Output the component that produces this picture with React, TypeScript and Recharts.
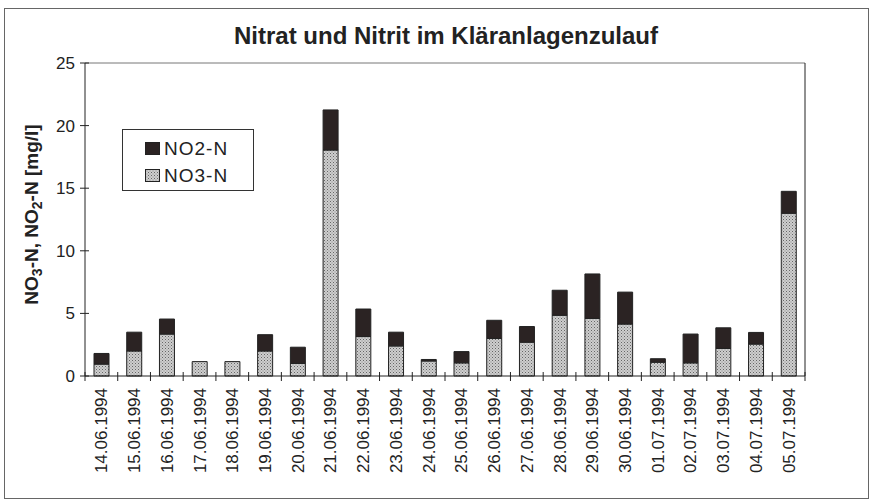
import { Bar, BarChart, XAxis, YAxis } from "recharts";

// Probenahmetage (Zulauf Kläranlage), Werte in mg/l
const DATES = [
  "14.06.1994", "15.06.1994", "16.06.1994", "17.06.1994", "18.06.1994", "19.06.1994",
  "20.06.1994", "21.06.1994", "22.06.1994", "23.06.1994", "24.06.1994", "25.06.1994",
  "26.06.1994", "27.06.1994", "28.06.1994", "29.06.1994", "30.06.1994", "01.07.1994",
  "02.07.1994", "03.07.1994", "04.07.1994", "05.07.1994",
];
const NO3_N = [
  0.95, 2.0, 3.35, 1.15, 1.15, 2.0, 1.0, 18.05, 3.15, 2.4, 1.2, 1.05,
  3.0, 2.7, 4.85, 4.6, 4.15, 1.1, 1.05, 2.2, 2.55, 13.0,
];
const NO2_N = [
  0.85, 1.5, 1.2, 0, 0, 1.3, 1.3, 3.2, 2.2, 1.1, 0.12, 0.9,
  1.45, 1.25, 2.0, 3.55, 2.55, 0.28, 2.3, 1.65, 0.93, 1.75,
];
const Y_TICKS = [0, 5, 10, 15, 20, 25];
const LEGEND_ITEMS = [
  { name: "NO2-N", fill: "#2b2323" },
  { name: "NO3-N", fill: "url(#no3dots)" },
];

const rows = DATES.map((d, i) => ({ date: d, no3: NO3_N[i], no2: NO2_N[i] }));

const FONT = "'Liberation Sans', Arial, sans-serif";
const INK = "#222";

function DateTick(props: any) {
  const { x, y, payload, index, visibleTicksCount } = props;
  const half = payload?.offset ?? 0;
  return (
    <g>
      <line x1={x - half} x2={x - half} y1={y - 12} y2={y - 3} stroke={INK} />
      {index === visibleTicksCount - 1 ? (
        <line x1={x + half} x2={x + half} y1={y - 12} y2={y - 3} stroke={INK} />
      ) : null}
      <text
        transform={`translate(${x + 6},${y + 4}) rotate(-90)`}
        textAnchor="end"
        fontSize={17}
        fontFamily={FONT}
        fill={INK}
      >
        {payload.value}
      </text>
    </g>
  );
}

// value ticks cross the axis line, like the original
function ValueTick(props: any) {
  const { x, y, payload } = props;
  return (
    <g>
      <line x1={x + 5} x2={x + 14} y1={y} y2={y} stroke={INK} />
      <text x={x} y={y} dy={6} textAnchor="end" fontSize={17} fontFamily={FONT} fill={INK}>
        {payload.value}
      </text>
    </g>
  );
}

function YLabel(props: any) {
  const vb = props.viewBox ?? { x: 0, y: 0, width: 0, height: 0 };
  const cx = vb.x + 13;
  const cy = vb.y + vb.height / 2 - 5;
  return (
    <text
      transform={`translate(${cx},${cy}) rotate(-90)`}
      textAnchor="middle"
      fontSize={19}
      fontWeight="bold"
      fontFamily={FONT}
      fill={INK}
    >
      NO
      <tspan fontSize={14} dy={4}>3</tspan>
      <tspan dy={-4}>-N, NO</tspan>
      <tspan fontSize={14} dy={4}>2</tspan>
      <tspan dy={-4}>-N [mg/l]</tspan>
    </text>
  );
}

function LegendBox() {
  return (
    <div
      style={{
        position: "absolute",
        left: 122,
        top: 129,
        border: "1px solid #333",
        width: 132,
        height: 62,
        boxSizing: "border-box",
        padding: "5px 0 0 22px",
        background: "#fff",
      }}
    >
      {LEGEND_ITEMS.map((it) => (
        <div key={it.name} style={{ display: "flex", alignItems: "center", height: 27 }}>
          <svg width={15} height={13} style={{ marginRight: 4 }}>
            <rect x={0.5} y={0.5} width={14} height={12} fill={it.fill} stroke="#222" />
          </svg>
          <span style={{ fontFamily: FONT, fontSize: 19, letterSpacing: 1, color: INK }}>{it.name}</span>
        </div>
      ))}
    </div>
  );
}

export default function App() {
  return (
    <div style={{ position: "absolute", left: 0, top: 0, width: 878, height: 502, background: "#fff" }}>
      <div
        style={{
          position: "absolute",
          left: 4,
          top: 8,
          width: 863,
          height: 489,
          border: "1px solid #666",
        }}
      />
      <div
        style={{
          position: "absolute",
          left: 0,
          width: 892,
          top: 22,
          textAlign: "center",
          fontFamily: FONT,
          fontWeight: "bold",
          fontSize: 24,
          color: INK,
        }}
      >
        Nitrat und Nitrit im Kläranlagenzulauf
      </div>
      <div style={{ position: "absolute", left: 0, top: 0 }}>
        <BarChart
          width={878}
          height={502}
          data={rows}
          margin={{ top: 62, right: 72, bottom: 26, left: 25 }}
          barSize={15}
        >
          <defs>
            <pattern id="no3dots" width={3} height={3} patternUnits="userSpaceOnUse">
              <rect width={3} height={3} fill="#cecece" />
              <rect x={0} y={0} width={1} height={1} fill="#666" />
              <rect x={1.5} y={1.5} width={1} height={1} fill="#888" />
            </pattern>
          </defs>
          <XAxis
            dataKey="date"
            interval={0}
            height={100}
            tickSize={4}
            tickMargin={4}
            tickLine={false}
            axisLine={{ stroke: INK }}
            tick={<DateTick />}
          />
          <XAxis
            xAxisId="top"
            dataKey="date"
            orientation="top"
            height={1}
            tick={false}
            tickLine={false}
            axisLine={{ stroke: "#777" }}
          />
          <YAxis
            domain={[0, 25]}
            ticks={Y_TICKS}
            width={60}
            tickSize={5}
            tickMargin={5}
            axisLine={{ stroke: INK }}
            tickLine={false}
            tick={<ValueTick />}
            label={{ content: <YLabel /> }}
          />
          <YAxis
            yAxisId="right"
            orientation="right"
            domain={[0, 25]}
            width={1}
            tick={false}
            tickLine={false}
            axisLine={{ stroke: INK }}
          />
          <Bar dataKey="no3" name="NO3-N" stackId="n" fill="url(#no3dots)" stroke="#222" strokeWidth={1} isAnimationActive={false} />
          <Bar dataKey="no2" name="NO2-N" stackId="n" fill="#2b2323" stroke="#222" strokeWidth={1} isAnimationActive={false} />
        </BarChart>
      </div>
      <LegendBox />
    </div>
  );
}
